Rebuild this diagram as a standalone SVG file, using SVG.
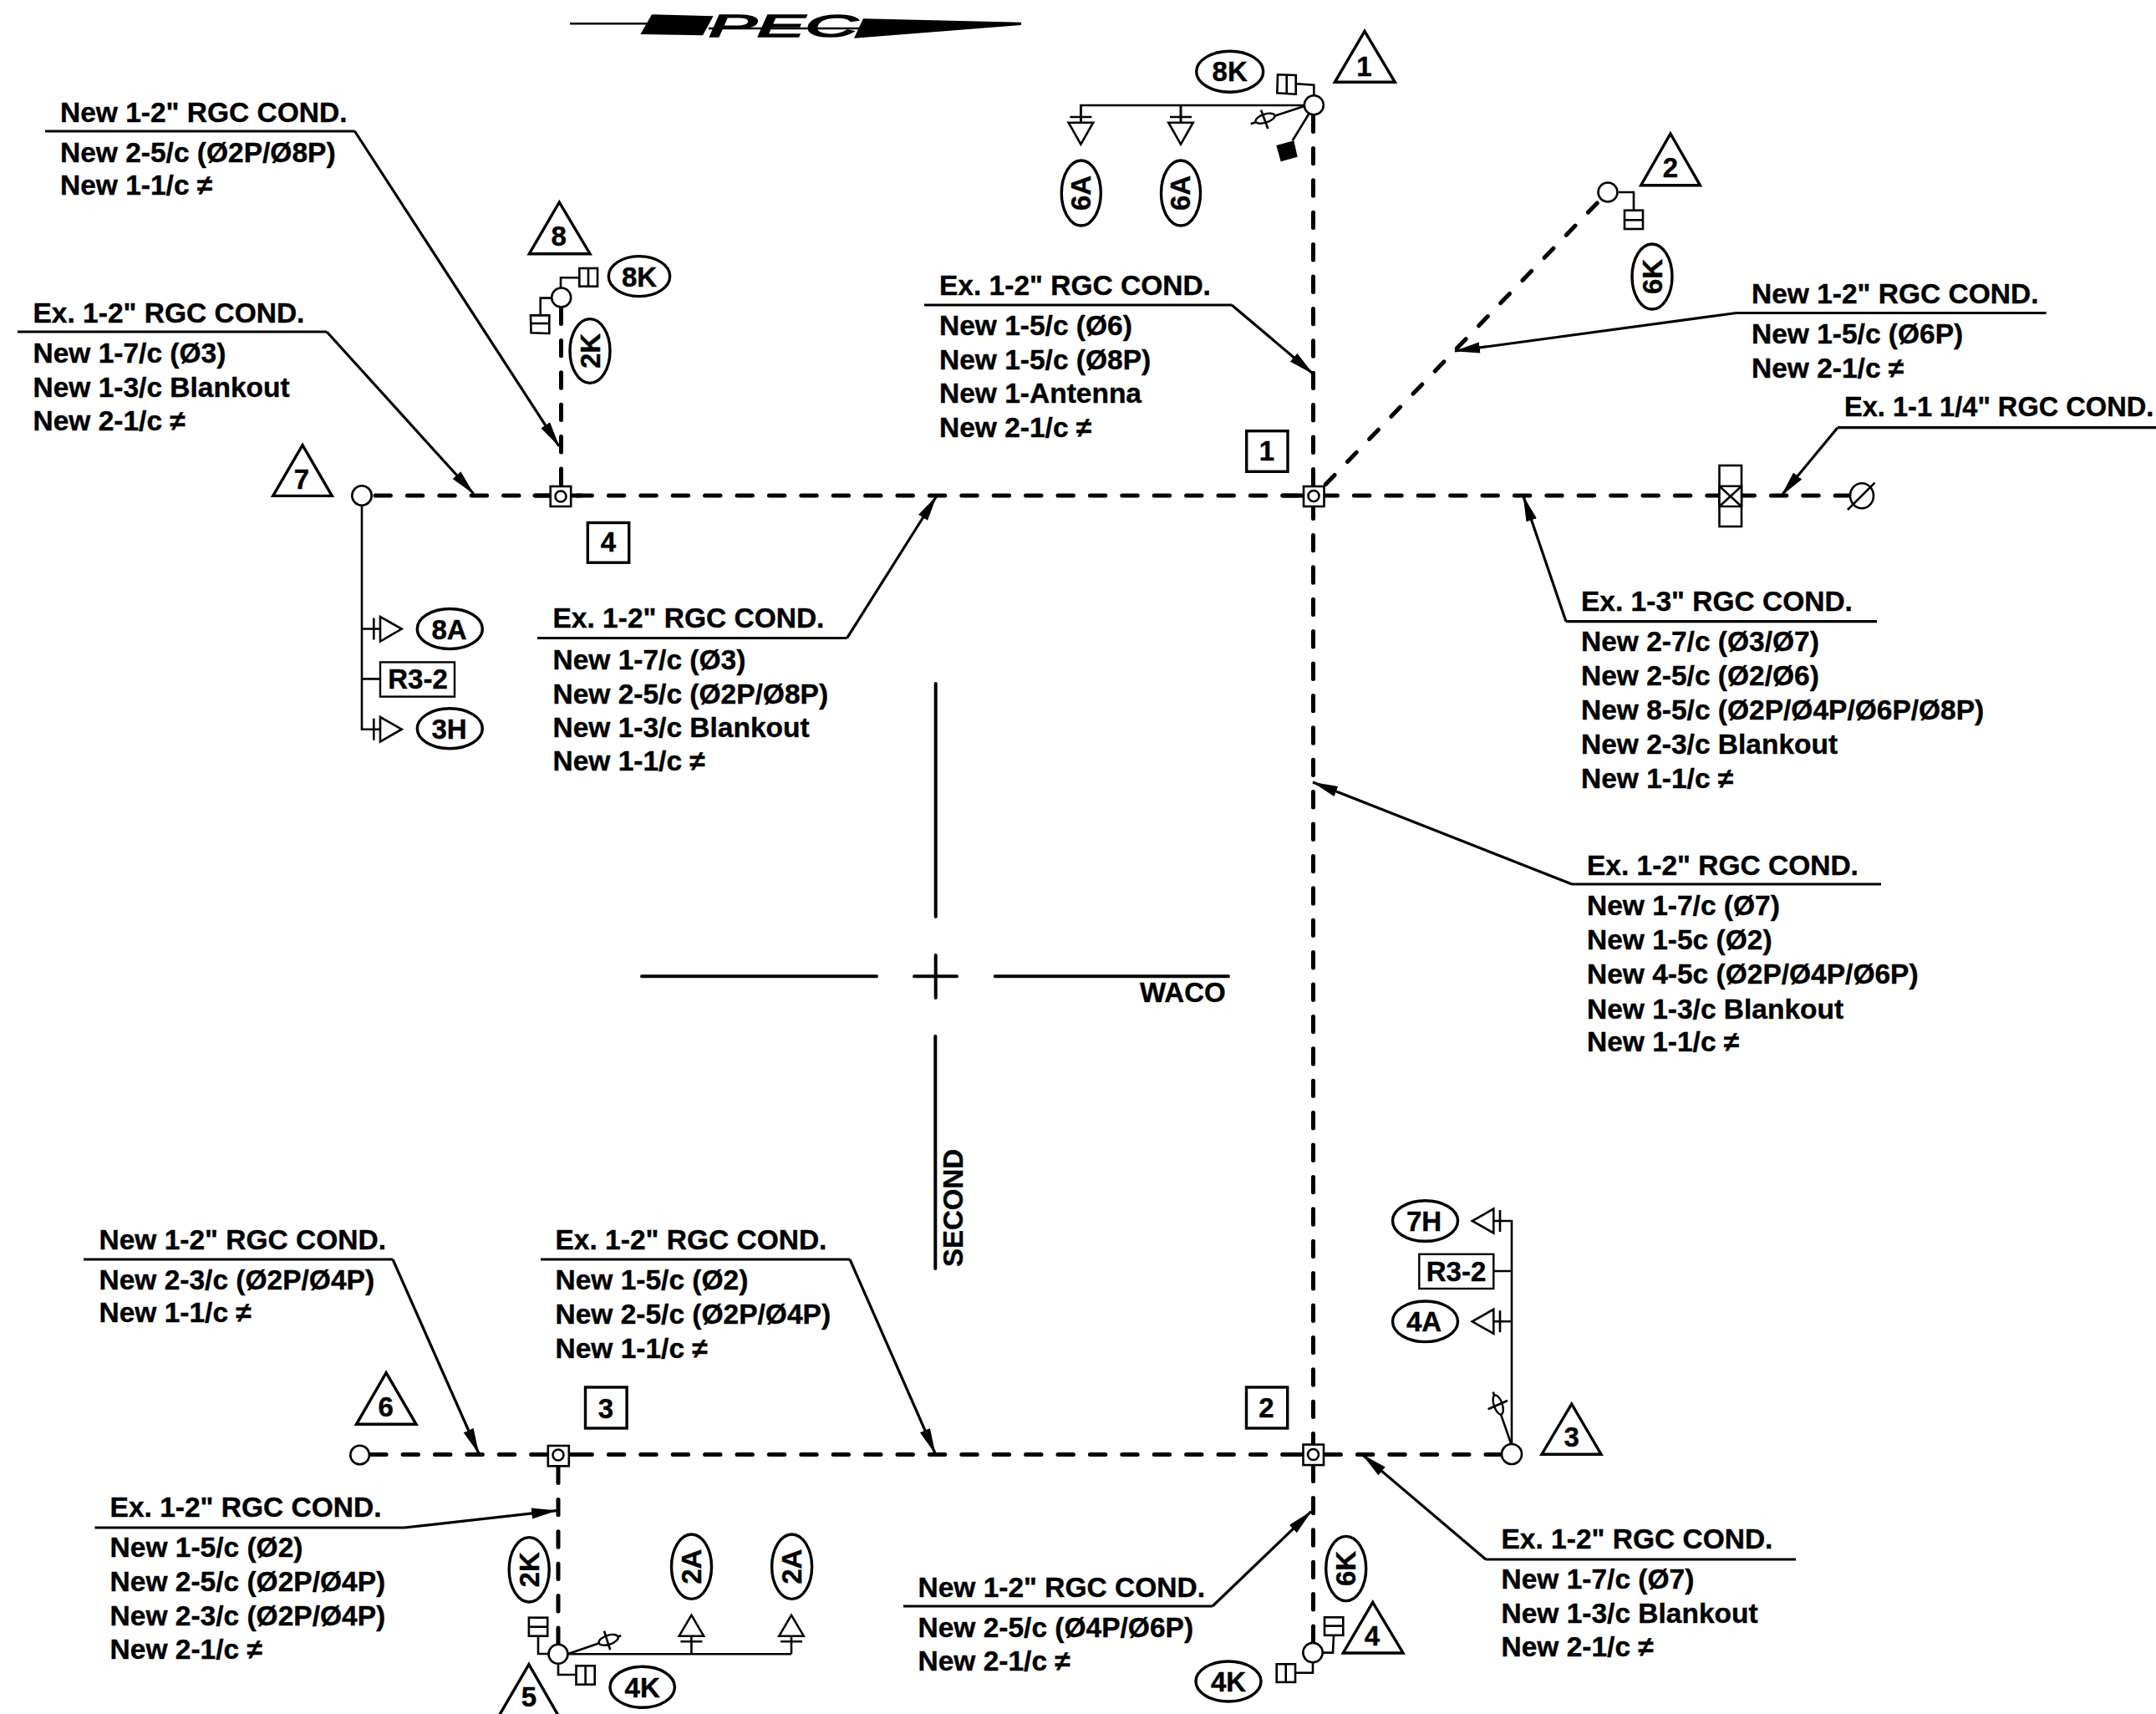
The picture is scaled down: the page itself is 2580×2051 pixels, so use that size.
<svg xmlns="http://www.w3.org/2000/svg" width="2580" height="2051" viewBox="0 0 2580 2051">
<style>
text{font-family:"Liberation Sans",Arial,sans-serif;font-weight:700;font-size:33.5px;fill:#000;stroke:#000;stroke-width:.4}
.c{text-anchor:middle;font-size:33px}
.dash{fill:none;stroke:#000;stroke-width:5;stroke-linecap:round;stroke-dasharray:18.4 20}
.diag{stroke-dasharray:15.5 22.2}
.stub{fill:none;stroke:#000;stroke-width:5;stroke-linecap:round}
.lead{fill:none;stroke:#000;stroke-width:3.2;marker-end:url(#arrow)}
.ul{fill:none;stroke:#000;stroke-width:3.2}
.thin{fill:none;stroke:#000;stroke-width:2.6}
.rule{fill:none;stroke:#000;stroke-width:4;stroke-linecap:round}
.sym{fill:#fff;stroke:#000;stroke-width:2.6}
.oval{fill:#fff;stroke:#000;stroke-width:3.4}
.tri{fill:#fff;stroke:#000;stroke-width:3.4;stroke-linejoin:miter}
.box{fill:#fff;stroke:#000;stroke-width:3.4}
.tag{fill:#fff;stroke:#000;stroke-width:2.4}
</style>
<defs>
<marker id="arrow" markerUnits="userSpaceOnUse" markerWidth="32" markerHeight="14" refX="30" refY="6.5" orient="auto" viewBox="0 0 32 13"><path d="M0 0L31 6.5L0 13Z" fill="#000"/></marker>
</defs>
<rect width="2580" height="2051" fill="#fff"/>
<g id="logo">
<path d="M682 28.3H774" class="thin"/>
<path d="M780 17.3L853.6 19.3L841 42.3L766.4 41Z" fill="#000"/>
<path d="M1033 22.3L1222 26.7L1222 30L1022 45.7Z" fill="#000"/>
<text x="848" y="44" textLength="178" lengthAdjust="spacingAndGlyphs" style="font-size:36px;font-style:italic;font-weight:400;stroke:#000;stroke-width:1.6">PEC</text>
<path d="M848 34H1030" class="thin"/>
</g>
<g id="street-grid">
<path d="M1119.7 818V1097M1119.3 1240V1518M768 1168.3H1049M1190.7 1168.3H1470M1094 1168.3H1145M1119.7 1143V1194" class="rule"/>
<text x="1364" y="1199.3" style="font-size:33px">WACO</text>
<text transform="translate(1152 1516) rotate(-90)" style="font-size:33px">SECOND</text>
</g>
<g id="connectors">
<path class="dash" d="M449 593H658M690 593H1555M1582 593H2058M2081 593H2216M1571.5 139V582M1571.5 602V1728M1571.5 1754V1967M671.5 369V582M443.7 1740.5H657M690 1740.5H1558M1586 1740.5H1800M668 1756V1970"/>
<path class="dash diag" d="M1586.3 579.6L1917 237"/>
<path class="stub" d="M640 593H671M671 593H695M1535 593H1572M668 1740.5H695M1535 1740.5H1572"/>
<path class="thin" d="M433 605V872.7H455M433 752.5H455M433 812.4H455M1809 1728V1461H1787.3M1809 1521H1787.3M1809 1581.3H1787.3"/>
<path class="thin" d="M1562 126H1293.4V146.7M1413 126V146.7M1550.7 100.3L1572.3 101.7V114.3M1561.7 126.7L1496.7 148.3M1566 136.7L1546.7 168.3"/>
<path class="thin" d="M1937 230H1955V251.7M671 345V332.3H693.3M660.7 356.6H646.7V377.4M1808.3 1727.8L1786.7 1665.6M1582.7 1977.6H1595L1596 1956.8M1571 1988.4V2001.7H1550M644 1957.7V1979H657M668 1990V2004H689.5M680 1979L743.2 1957.3M680 1979.3H947M827.4 1979.3V1957.7M947 1979.3V1957.7"/>
</g>
<g id="leaders">
<path class="ul" d="M54 157H424.5"/><path class="lead" d="M424.5 157L669 534"/>
<path class="ul" d="M21 397H391"/><path class="lead" d="M391 397L566.7 590.8"/>
<path class="ul" d="M1106 365H1474"/><path class="lead" d="M1474 365L1571 447"/>
<path class="ul" d="M2078 374.5H2448.6"/><path class="lead" d="M2078 374.5L1741 420"/>
<path class="ul" d="M2199 511.7H2580"/><path class="lead" d="M2199 511.7L2132 592.7"/>
<path class="ul" d="M1874 743.7H2246"/><path class="lead" d="M1874 743.7L1823 594"/>
<path class="ul" d="M643 763.5H1013.6"/><path class="lead" d="M1013.6 763.5L1120.5 594"/>
<path class="ul" d="M1881 1058H2251"/><path class="lead" d="M1881 1058L1571 936"/>
<path class="ul" d="M100 1507H470"/><path class="lead" d="M470 1507L572.8 1739"/>
<path class="ul" d="M647 1507H1017"/><path class="lead" d="M1017 1507L1119 1739"/>
<path class="ul" d="M113.5 1828H484"/><path class="lead" d="M484 1828L666 1807.7"/>
<path class="ul" d="M1081 1922H1451"/><path class="lead" d="M1451 1922L1569 1808.7"/>
<path class="ul" d="M1778 1866H2149"/><path class="lead" d="M1778 1866L1630.7 1741"/>
</g>
<g id="label-a"><text x="72" y="146">New 1-2" RGC COND.</text><text x="72" y="194">New 2-5/c (Ø2P/Ø8P)</text><text x="72" y="233">New 1-1/c ≠</text></g>
<g id="label-b"><text x="39.5" y="386">Ex. 1-2" RGC COND.</text><text x="39.5" y="434">New 1-7/c (Ø3)</text><text x="39.5" y="475">New 1-3/c Blankout</text><text x="39.5" y="514.5">New 2-1/c ≠</text></g>
<g id="label-c"><text x="1124" y="353">Ex. 1-2" RGC COND.</text><text x="1124" y="401">New 1-5/c (Ø6)</text><text x="1124" y="442">New 1-5/c (Ø8P)</text><text x="1124" y="482">New 1-Antenna</text><text x="1124" y="523">New 2-1/c ≠</text></g>
<g id="label-d"><text x="2096" y="363">New 1-2" RGC COND.</text><text x="2096" y="411">New 1-5/c (Ø6P)</text><text x="2096" y="452">New 2-1/c ≠</text></g>
<g id="label-e"><text x="2207" y="498" style="font-size:32.6px">Ex. 1-1 1/4" RGC COND.</text></g>
<g id="label-f"><text x="1892" y="731">Ex. 1-3" RGC COND.</text><text x="1892" y="779">New 2-7/c (Ø3/Ø7)</text><text x="1892" y="820">New 2-5/c (Ø2/Ø6)</text><text x="1892" y="861">New 8-5/c (Ø2P/Ø4P/Ø6P/Ø8P)</text><text x="1892" y="902">New 2-3/c Blankout</text><text x="1892" y="943">New 1-1/c ≠</text></g>
<g id="label-g"><text x="661.5" y="751">Ex. 1-2" RGC COND.</text><text x="661.5" y="801">New 1-7/c (Ø3)</text><text x="661.5" y="842">New 2-5/c (Ø2P/Ø8P)</text><text x="661.5" y="882">New 1-3/c Blankout</text><text x="661.5" y="922">New 1-1/c ≠</text></g>
<g id="label-h"><text x="1899" y="1046.5">Ex. 1-2" RGC COND.</text><text x="1899" y="1095">New 1-7/c (Ø7)</text><text x="1899" y="1136">New 1-5c (Ø2)</text><text x="1899" y="1177">New 4-5c (Ø2P/Ø4P/Ø6P)</text><text x="1899" y="1219">New 1-3/c Blankout</text><text x="1899" y="1258">New 1-1/c ≠</text></g>
<g id="label-i"><text x="118.5" y="1495">New 1-2" RGC COND.</text><text x="118.5" y="1543">New 2-3/c (Ø2P/Ø4P)</text><text x="118.5" y="1582">New 1-1/c ≠</text></g>
<g id="label-j"><text x="664.5" y="1495">Ex. 1-2" RGC COND.</text><text x="664.5" y="1543">New 1-5/c (Ø2)</text><text x="664.5" y="1584">New 2-5/c (Ø2P/Ø4P)</text><text x="664.5" y="1625">New 1-1/c ≠</text></g>
<g id="label-k"><text x="131.6" y="1815">Ex. 1-2" RGC COND.</text><text x="131.6" y="1863">New 1-5/c (Ø2)</text><text x="131.6" y="1904">New 2-5/c (Ø2P/Ø4P)</text><text x="131.6" y="1945">New 2-3/c (Ø2P/Ø4P)</text><text x="131.6" y="1985">New 2-1/c ≠</text></g>
<g id="label-l"><text x="1098.5" y="1910.5">New 1-2" RGC COND.</text><text x="1098.5" y="1958.5">New 2-5/c (Ø4P/Ø6P)</text><text x="1098.5" y="1998.5">New 2-1/c ≠</text></g>
<g id="label-m"><text x="1796.5" y="1853">Ex. 1-2" RGC COND.</text><text x="1796.5" y="1900.6">New 1-7/c (Ø7)</text><text x="1796.5" y="1941.7">New 1-3/c Blankout</text><text x="1796.5" y="1981.5">New 2-1/c ≠</text></g>

<g id="junction-1"><rect class="sym" x="1560" y="582" width="24.5" height="24"/><circle class="sym" cx="1572" cy="593.5" r="6.5"/></g>
<g id="junction-2"><rect class="sym" x="1559.5" y="1728.6" width="24.5" height="24.5"/><circle class="sym" cx="1571.5" cy="1740.5" r="6.5"/></g>
<g id="junction-3"><rect class="sym" x="655.8" y="1730" width="25" height="24.3"/><circle class="sym" cx="668" cy="1741" r="6.5"/></g>
<g id="junction-4"><rect class="sym" x="658.7" y="582" width="24.5" height="24"/><circle class="sym" cx="671" cy="594" r="6.5"/></g>
<g id="box-1"><rect class="box" x="1491.7" y="515.7" width="49.3" height="48.6"/><text class="c" x="1516" y="551">1</text></g>
<g id="box-2"><rect class="box" x="1491.5" y="1660" width="49.2" height="49"/><text class="c" x="1515.5" y="1696">2</text></g>
<g id="box-3"><rect class="box" x="700.5" y="1660" width="49.6" height="49"/><text class="c" x="725" y="1696.5">3</text></g>
<g id="box-4"><rect class="box" x="703.3" y="625.5" width="49.4" height="47.7"/><text class="c" x="728" y="660">4</text></g>

<g id="pole-1">
<circle class="sym" cx="1572.3" cy="125.7" r="11.5"/>
<path class="sym" d="M1529 89.3L1550.7 90V112.7L1528.3 111.3Z"/><path class="thin" d="M1539.7 89.6V112"/>
<ellipse class="oval" style="stroke-width:2.4" cx="1514" cy="141.7" rx="12" ry="5" transform="rotate(-18 1514 141.7)"/><path class="thin" d="M1509 131.7L1517.3 154"/>
<path d="M1527.3 174L1548.3 168.3L1552.7 187.7L1532.7 193.3Z" fill="#000"/>
<path class="thin" d="M1293.4 126V146.7M1413 126V146.7M1280.4 140H1306.4M1400 140H1426"/>
<path class="sym" d="M1278.7 146.7H1308.1L1293.4 172.7ZM1398.3 146.7H1427.7L1413 172.7Z"/>
<ellipse class="oval" cx="1471.7" cy="85.7" rx="40" ry="24.5"/><text class="c" x="1471.7" y="97">8K</text>
<ellipse class="oval" cx="1293.8" cy="231" rx="23.5" ry="39"/><text class="c" transform="translate(1305 231) rotate(-90)">6A</text>
<ellipse class="oval" cx="1413" cy="231" rx="23.5" ry="39"/><text class="c" transform="translate(1424.3 231) rotate(-90)">6A</text>
</g>
<g id="tri-1"><path class="tri" d="M1633 37.3L1669.3 98.3H1597.3Z"/><text class="c" x="1632.5" y="91">1</text></g>
<g id="pole-2">
<circle class="sym" cx="1924" cy="230" r="11.5"/>
<rect class="sym" x="1944" y="251.7" width="22" height="22.3"/><path class="thin" d="M1944 263.3H1966"/>
<ellipse class="oval" cx="1977" cy="331" rx="24" ry="39"/><text class="c" transform="translate(1988.5 331) rotate(-90)">6K</text>
</g>
<g id="tri-2"><path class="tri" d="M1999 160L2034.4 221.7H1963.7Z"/><text class="c" x="1999" y="212">2</text></g>
<g id="pole-3">
<circle class="sym" cx="1809" cy="1740" r="12"/>
<ellipse class="oval" style="stroke-width:2.4" cx="1792.7" cy="1681" rx="12" ry="5" transform="rotate(71 1792.7 1681)"/><path class="thin" d="M1780.7 1686.3L1804 1676"/>
<path class="thin" d="M1795 1448V1474M1795 1568.3V1594.3"/>
<path class="sym" d="M1787.3 1446.5V1475.5L1761.7 1461ZM1787.3 1566.8V1595.8L1761.7 1581.3Z"/>
<rect class="tag" x="1698.3" y="1500.8" width="89" height="41.2"/><text class="c" x="1742.5" y="1532.8">R3-2</text>
<ellipse class="oval" cx="1705.5" cy="1461" rx="39" ry="24.3"/><text class="c" x="1704" y="1473">7H</text>
<ellipse class="oval" cx="1705.5" cy="1581.3" rx="39" ry="24.3"/><text class="c" x="1704" y="1593">4A</text>
</g>
<g id="tri-3"><path class="tri" d="M1880.7 1680L1916 1740.2H1845Z"/><text class="c" x="1880.7" y="1731">3</text></g>
<g id="pole-4">
<circle class="sym" cx="1571" cy="1977.6" r="11.7"/>
<rect class="sym" x="1585" y="1935.3" width="22.3" height="21.5"/><path class="thin" d="M1585 1945.6H1607.3"/>
<rect class="sym" x="1527.7" y="1991.3" width="22.3" height="21.6"/><path class="thin" d="M1538.7 1991.3V2012.9"/>
<ellipse class="oval" cx="1610.7" cy="1877" rx="24" ry="38.6"/><text class="c" transform="translate(1622.2 1877) rotate(-90)">6K</text>
<ellipse class="oval" cx="1470" cy="2012" rx="39" ry="24"/><text class="c" x="1470" y="2024">4K</text>
</g>
<g id="tri-4"><path class="tri" d="M1642.7 1917.4L1679 1978H1607.3Z"/><text class="c" x="1642" y="1968.5">4</text></g>
<g id="pole-5">
<circle class="sym" cx="668" cy="1979.3" r="11.5"/>
<rect class="sym" x="632.9" y="1935.7" width="22.3" height="22"/><path class="thin" d="M632.9 1946.7H655.2"/>
<rect class="sym" x="689.5" y="1993.3" width="22.2" height="22.4"/><path class="thin" d="M700.6 1993.3V2015.7"/>
<ellipse class="oval" style="stroke-width:2.4" cx="728.2" cy="1962.3" rx="12" ry="5.5" transform="rotate(-18 728.2 1962.3)"/><path class="thin" d="M723 1951.7L730.2 1974.3"/>
<path class="thin" d="M814.4 1964.3H840.4M934 1964.3H960"/>
<path class="sym" d="M812.7 1957.7H842.1L827.4 1932.7ZM932.3 1957.7H961.7L947 1932.7Z"/>
<ellipse class="oval" cx="633.2" cy="1878.3" rx="24" ry="38.7"/><text class="c" transform="translate(644.7 1878.3) rotate(-90)">2K</text>
<ellipse class="oval" cx="827.5" cy="1874.7" rx="24" ry="38.7"/><text class="c" transform="translate(839 1874.7) rotate(-90)">2A</text>
<ellipse class="oval" cx="947.6" cy="1874.7" rx="24" ry="38.7"/><text class="c" transform="translate(959 1874.7) rotate(-90)">2A</text>
<ellipse class="oval" cx="768.7" cy="2018.8" rx="38.7" ry="24.5"/><text class="c" x="768.7" y="2030.7">4K</text>
</g>
<g id="tri-5"><path class="tri" d="M632.9 1991.7L668.2 2053H597.2Z"/><text class="c" x="632.9" y="2042">5</text></g>
<g id="pole-6"><circle class="sym" cx="430.6" cy="1741" r="11.3"/></g>
<g id="tri-6"><path class="tri" d="M462.1 1642.7L498 1704.3H426.5Z"/><text class="c" x="461.8" y="1695">6</text></g>
<g id="pole-7">
<circle class="sym" cx="433" cy="593" r="11.7"/>
<path class="thin" d="M447.3 739.5V765.5M447.3 859.7V885.7"/>
<path class="sym" d="M455 738V767.5L480.7 752.5ZM455 858V887.5L480.7 872.7Z"/>
<rect class="tag" x="455" y="792.4" width="89" height="41.2"/><text class="c" x="500" y="824">R3-2</text>
<ellipse class="oval" cx="538.3" cy="752.5" rx="39" ry="24"/><text class="c" x="537.5" y="764.5">8A</text>
<ellipse class="oval" cx="538.3" cy="871.8" rx="39" ry="24"/><text class="c" x="537.5" y="884">3H</text>
</g>
<g id="tri-7"><path class="tri" d="M362 532.7L397.3 593.4H326.7Z"/><text class="c" x="361" y="584.7">7</text></g>
<g id="pole-8">
<circle class="sym" cx="671.7" cy="356" r="11.5"/>
<rect class="sym" x="693.3" y="321" width="21.7" height="21.7"/><path class="thin" d="M704 321V342.7"/>
<path class="sym" d="M635 377.4L657.3 377.4V399L635.5 398.2Z"/><path class="thin" d="M635 387H657.3"/>
<ellipse class="oval" cx="765" cy="330.6" rx="36.7" ry="24"/><text class="c" x="765" y="343">8K</text>
<ellipse class="oval" cx="706" cy="420" rx="24" ry="38.4"/><text class="c" transform="translate(717.5 420) rotate(-90)">2K</text>
</g>
<g id="tri-8"><path class="tri" d="M669.3 242L706 303.7H633.3Z"/><text class="c" x="668.7" y="294">8</text></g>
<g id="end-disconnect">
<rect class="sym" x="2057.5" y="557" width="26.5" height="73"/><path class="sym" d="M2057.5 581.7H2084V606H2057.5Z"/><path class="thin" d="M2057.5 581.7L2084 606M2084 581.7L2057.5 606"/>
<ellipse class="sym" cx="2228" cy="593.3" rx="14" ry="15"/><path class="thin" d="M2211 610L2243.5 577.7"/>
</g>
</svg>
